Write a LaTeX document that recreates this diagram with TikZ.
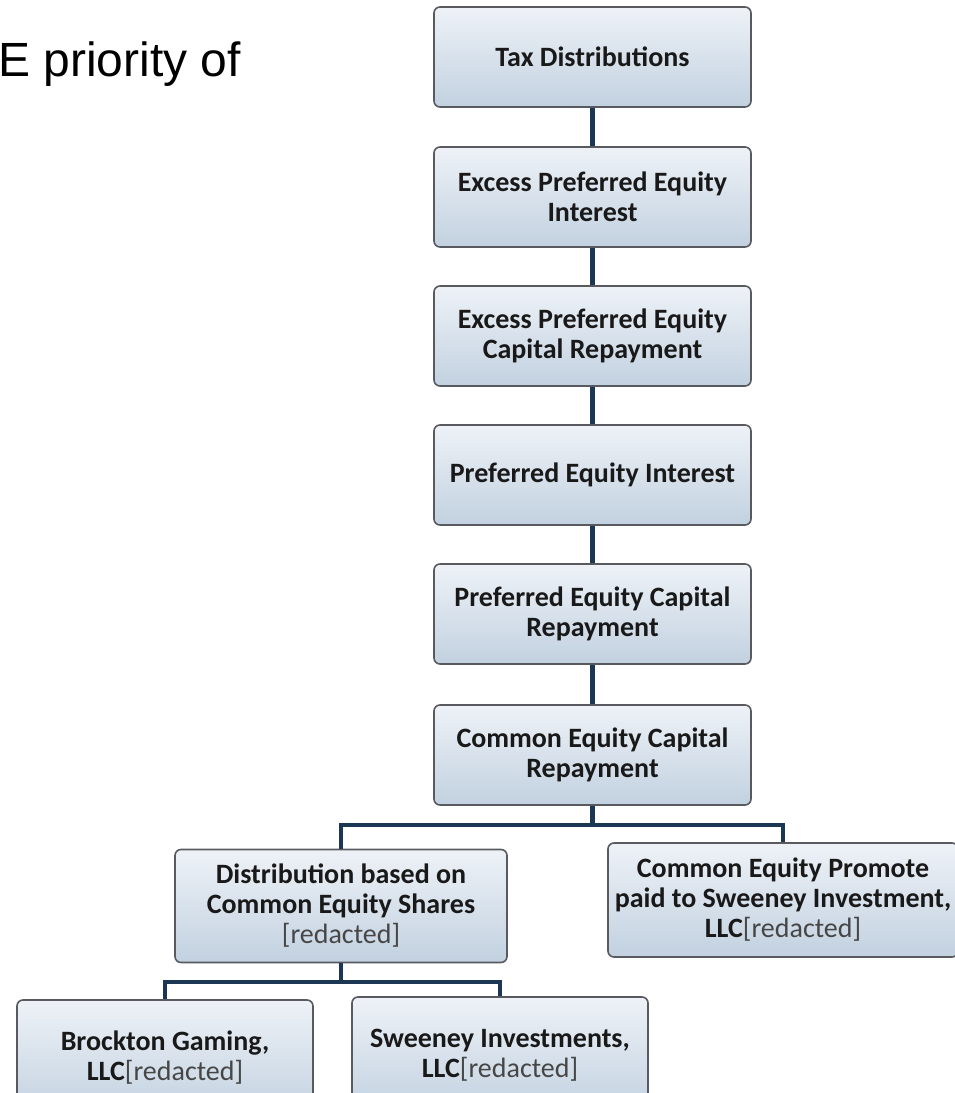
\documentclass[tikz,border=0pt]{standalone}
\usepackage{fontspec}
\setmainfont{Carlito}
\newfontfamily\titlefont{Liberation Sans}
\usepackage{tikz}

\definecolor{linkblue}{RGB}{28,55,84}
\definecolor{boxtop}{RGB}{238,242,247}
\definecolor{boxbot}{RGB}{194,209,224}
\definecolor{boxedge}{RGB}{88,90,95}
\definecolor{redgrey}{RGB}{70,70,70}

\tikzset{
  stage/.style={draw=boxedge, line width=1.6pt, rounded corners=6pt,
    top color=boxtop, bottom color=boxbot, text=black!90, align=center,
    font=\fontsize{28}{30}\selectfont\bfseries,
    minimum width=317pt, minimum height=100pt, inner sep=0pt},
  link/.style={draw=linkblue, line width=4.5pt}
}
\newcommand{\redacted}{{\mdseries\color{redgrey}[redacted]}}

\begin{document}
\begin{tikzpicture}[x=1pt,y=-1pt]
  \useasboundingbox (0,0) rectangle (955,1093);

  \node[font=\titlefont\fontsize{48}{58}\selectfont, anchor=base west, inner sep=0pt] (title) at (-2,76) {E priority of};

  \node[stage] (tax) at (592.5,57) {Tax Distributions};
  \node[stage] (exint) at (592.5,197) {Excess Preferred Equity\\Interest};
  \node[stage] (excap) at (592.5,336) {Excess Preferred Equity\\Capital Repayment};
  \node[stage] (prefint) at (592.5,475) {Preferred Equity Interest};
  \node[stage] (prefcap) at (592.5,614) {Preferred Equity Capital\\Repayment};
  \node[stage] (comcap) at (592.5,755) {Common Equity Capital\\Repayment};

  \node[stage, minimum width=332pt, minimum height=113pt] (dist) at (341,906)
    {Distribution based on\\Common Equity Shares\\\redacted};
  \node[stage, minimum width=350pt, minimum height=114pt] (promote) at (783,900)
    {Common Equity Promote\\paid to Sweeney Investment,\\LLC\redacted};

  \node[stage, minimum width=296pt, minimum height=116pt] (brockton) at (165,1058)
    {Brockton Gaming,\\LLC\redacted};
  \node[stage, minimum width=296pt, minimum height=116pt] (sweeney) at (500,1055)
    {Sweeney Investments,\\LLC\redacted};

  \foreach \a/\b in {tax/exint, exint/excap, excap/prefint, prefint/prefcap, prefcap/comcap}
    \draw[link] (\a) -- (\b);

  \coordinate (fork) at (592.5,825);
  \coordinate (subfork) at (341,982);
  \draw[link] (comcap) -- (fork);
  \draw[link] (fork) -| (dist);
  \draw[link] (fork) -| (promote);
  \draw[link] (dist) -- (subfork);
  \draw[link] (subfork) -| (brockton);
  \draw[link] (subfork) -| (sweeney);
\end{tikzpicture}
\end{document}
